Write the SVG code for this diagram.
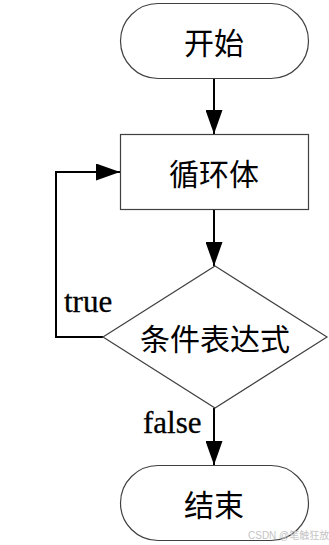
<svg xmlns="http://www.w3.org/2000/svg" width="329" height="545" viewBox="0 0 329 545">
<style>
.shape{fill:#ffffff;stroke:#404040;stroke-width:1.2}
.conn{fill:none;stroke:#000;stroke-width:2}
.cjk{font-family:"Noto Sans CJK SC","Noto Sans CJK JP",sans-serif;font-size:30px;fill:#000;text-anchor:middle;dominant-baseline:central}
.lbl{font-family:"Liberation Serif","Times New Roman",serif;font-size:31px;fill:#000;stroke:#000;stroke-width:0.3}
.wm{font-family:"Liberation Sans","Noto Sans CJK SC",sans-serif;font-size:10px;fill:#c4c4c4}
</style>
<defs>
<marker id="arr" markerUnits="userSpaceOnUse" markerWidth="24" markerHeight="17" refX="24" refY="8.5" orient="auto">
<path d="M0,0 L24,8.5 L0,17 z" fill="#000"/>
</marker>
</defs>
<rect width="329" height="545" fill="#ffffff"/>
<g id="connectors">
<path class="conn" d="M214,78 V134" marker-end="url(#arr)"/>
<path class="conn" d="M214,209 V266" marker-end="url(#arr)"/>
<path class="conn" d="M103,337 H56 V172 H120" marker-end="url(#arr)"/>
<path class="conn" d="M214,408 V465" marker-end="url(#arr)"/>
<text class="lbl" x="64" y="312">true</text>
<text class="lbl" x="143" y="433">false</text>
</g>
<g id="start">
<rect class="shape" x="120.5" y="3.5" width="188" height="75" rx="37.5" ry="37.5"/>
<text class="cjk" x="214" y="41">开始</text>
</g>
<g id="loopbody">
<rect class="shape" x="120.5" y="134.5" width="188" height="75"/>
<text class="cjk" x="214" y="172">循环体</text>
</g>
<g id="condition">
<polygon class="shape" points="215,266 327,337 215,408 103,337"/>
<text class="cjk" x="215" y="337">条件表达式</text>
</g>
<g id="end">
<rect class="shape" x="120.5" y="465.5" width="188" height="75" rx="37.5" ry="37.5"/>
<text class="cjk" x="214" y="503">结束</text>
</g>
<text class="wm" x="248" y="539">CSDN @笔触狂放</text>
</svg>
